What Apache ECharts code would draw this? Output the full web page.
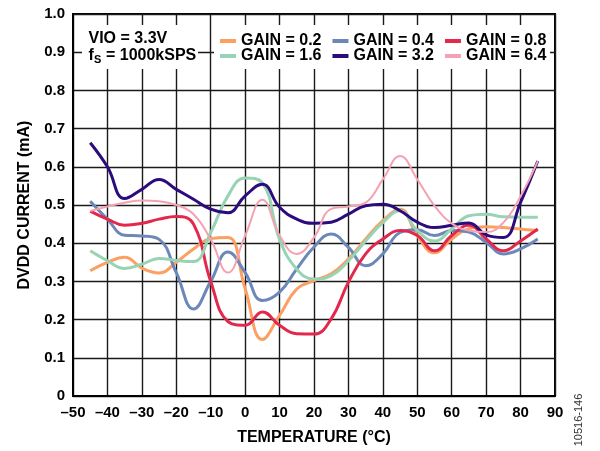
<!DOCTYPE html>
<html>
<head>
<meta charset="utf-8">
<script src="https://cdn.jsdelivr.net/npm/echarts@6/dist/echarts.min.js"></script>
<style>
  html, body { margin: 0; padding: 0; background: #fff; }
  #chart { width: 600px; height: 451px; }
</style>
</head>
<body>
<div id="chart"></div>
<script>
// ---- Data ----
const temperatures = [-45,-40,-35,-30,-25,-20,-15,-10,-5,0,5,10,15,20,25,30,35,40,45,50,55,60,65,70,75,80,85];
const gain02 = [0.328,0.350,0.363,0.335,0.322,0.350,0.385,0.412,0.415,0.281,0.148,0.211,0.280,0.302,0.320,0.359,0.411,0.459,0.489,0.420,0.375,0.411,0.438,0.443,0.441,0.437,0.433];
const gain04 = [0.510,0.463,0.421,0.419,0.410,0.323,0.228,0.300,0.377,0.323,0.250,0.272,0.333,0.390,0.424,0.389,0.341,0.372,0.428,0.435,0.420,0.433,0.429,0.402,0.372,0.385,0.411];
const gain08 = [0.484,0.463,0.447,0.452,0.463,0.470,0.450,0.300,0.195,0.185,0.220,0.185,0.163,0.162,0.202,0.298,0.372,0.411,0.433,0.420,0.380,0.420,0.447,0.411,0.380,0.406,0.437];
const gain16 = [0.380,0.354,0.334,0.345,0.360,0.355,0.352,0.428,0.524,0.571,0.558,0.410,0.332,0.306,0.315,0.354,0.406,0.454,0.485,0.433,0.406,0.437,0.472,0.476,0.469,0.468,0.468];
const gain32 = [0.663,0.600,0.517,0.541,0.567,0.541,0.515,0.489,0.480,0.524,0.554,0.494,0.463,0.452,0.455,0.476,0.498,0.502,0.485,0.455,0.441,0.447,0.453,0.422,0.415,0.507,0.615];
const gain64 = [0.484,0.496,0.506,0.512,0.510,0.500,0.476,0.410,0.323,0.420,0.514,0.420,0.372,0.415,0.490,0.496,0.506,0.567,0.628,0.567,0.498,0.452,0.433,0.429,0.454,0.523,0.615];

const seriesNames = ['GAIN = 0.2','GAIN = 0.4','GAIN = 0.8','GAIN = 1.6','GAIN = 3.2','GAIN = 6.4'];
const seriesValues = [gain02, gain04, gain08, gain16, gain32, gain64];
const xTicks = {min: -50, max: 90, step: 10};
const yTicks = {min: 0, max: 1, step: 0.1};

// ---- Styles ----
const colors = ['#fb9f63','#6b88b9','#e3284e','#98d3b3','#2c0b7d','#f4a2b2'];
const widths = [3, 3, 3, 3, 3, 2];
const FONT = '"Liberation Sans", Arial, Helvetica, sans-serif';

const chart = echarts.init(document.getElementById('chart'), null, {renderer: 'canvas'});

const series = seriesNames.map((name, i) => ({
  name: name,
  type: 'line',
  smooth: 0.45,
  symbol: 'none',
  data: temperatures.map((t, j) => [t, seriesValues[i][j]]),
  lineStyle: { color: colors[i], width: widths[i] },
  itemStyle: { color: colors[i] },
  z: 2
}));

const legendBase = {
  orient: 'horizontal',
  left: 220,
  padding: 0,
  itemGap: 11,
  itemWidth: 16,
  itemHeight: 4,
  icon: 'rect',
  selectedMode: false,
  textStyle: { fontFamily: FONT, fontWeight: 'bold', fontSize: 16, color: '#000', lineHeight: 16 }
};

const option = {
  backgroundColor: '#ffffff',
  animation: false,
  color: colors,
  grid: {
    left: 73, top: 14, width: 482, height: 384,
    show: true, borderColor: '#000', borderWidth: 2, backgroundColor: 'transparent'
  },
  legend: [
    Object.assign({}, legendBase, { top: 33, data: seriesNames.slice(0, 3) }),
    Object.assign({}, legendBase, { top: 48, data: seriesNames.slice(3, 6) })
  ],
  xAxis: {
    type: 'value',
    min: xTicks.min, max: xTicks.max, interval: xTicks.step,
    name: 'TEMPERATURE (°C)',
    nameLocation: 'middle',
    nameGap: 34,
    nameTextStyle: { fontFamily: FONT, fontWeight: 'bold', fontSize: 16, color: '#000' },
    axisLine: { show: true, onZero: false, lineStyle: { color: '#000', width: 2 } },
    axisTick: { show: false },
    axisLabel: {
      margin: 9,
      fontFamily: FONT, fontWeight: 'bold', fontSize: 15, color: '#000',
      formatter: v => (v < 0 ? '\u2013' + Math.abs(v) : String(v))
    },
    splitLine: { show: true, lineStyle: { color: '#1a1a1a', width: 1.4 } }
  },
  yAxis: {
    type: 'value',
    min: yTicks.min, max: yTicks.max, interval: yTicks.step,
    name: 'DVDD CURRENT (mA)',
    nameLocation: 'middle',
    nameGap: 40,
    nameTextStyle: { fontFamily: FONT, fontWeight: 'bold', fontSize: 16, color: '#000' },
    axisLine: { show: true, onZero: false, lineStyle: { color: '#000', width: 2 } },
    axisTick: { show: false },
    axisLabel: {
      margin: 8,
      fontFamily: FONT, fontWeight: 'bold', fontSize: 15, color: '#000',
      formatter: v => (v === 0 ? '0' : v.toFixed(1))
    },
    splitLine: { show: true, lineStyle: { color: '#1a1a1a', width: 1.4 } }
  },
  graphic: [
    { type: 'rect', z: 3, shape: { x: 82, y: 25, width: 116, height: 44 }, style: { fill: '#fff' } },
    { type: 'rect', z: 3, shape: { x: 214, y: 25, width: 336, height: 44 }, style: { fill: '#fff' } },
    { type: 'text', z: 10, x: 88.5, y: 39,
      style: { text: 'VIO = 3.3V', font: 'bold 16px ' + FONT, fill: '#000', verticalAlign: 'middle' } },
    { type: 'text', z: 10, x: 88.5, y: 55.5,
      style: { text: 'f', font: 'bold 16px ' + FONT, fill: '#000', verticalAlign: 'middle' } },
    { type: 'text', z: 10, x: 94, y: 60,
      style: { text: 'S', font: 'bold 11px ' + FONT, fill: '#000', verticalAlign: 'middle' } },
    { type: 'text', z: 10, x: 101.5, y: 55.5,
      style: { text: ' = 1000kSPS', font: 'bold 16px ' + FONT, fill: '#000', verticalAlign: 'middle' } },
    { type: 'text', z: 10, x: 579, y: 420, rotation: Math.PI / 2,
      style: { text: '10516-146', font: '11px ' + FONT, fill: '#333', align: 'center', verticalAlign: 'middle' } }
  ],
  series: series
};

chart.setOption(option);
</script>
</body>
</html>
